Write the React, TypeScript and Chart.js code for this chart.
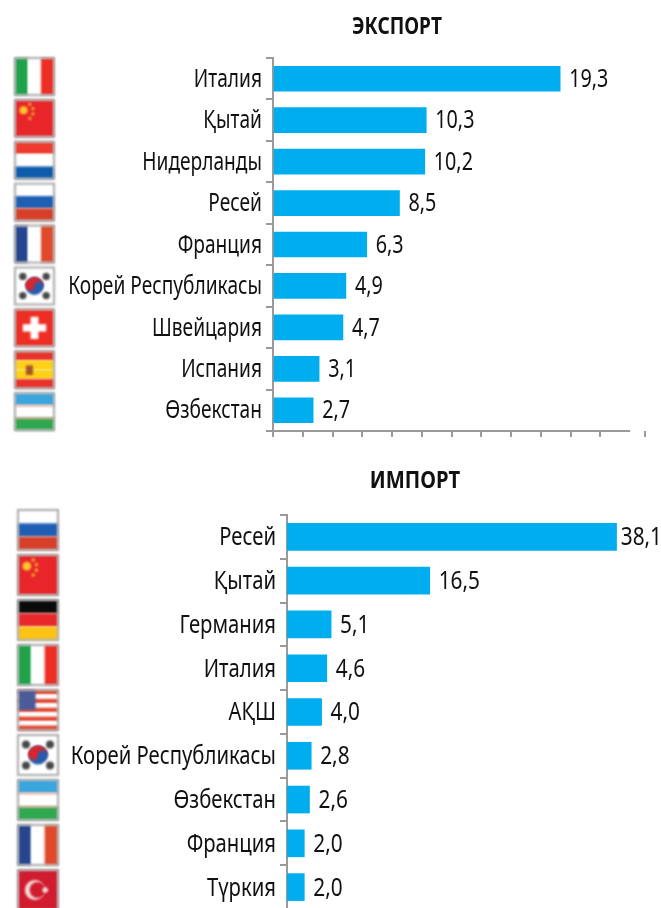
import React, { useEffect, useRef } from "react";
import { Chart, registerables } from "chart.js";

Chart.register(...registerables);

const exportCategories = ["Италия", "Қытай", "Нидерланды", "Ресей", "Франция", "Корей Республикасы", "Швейцария", "Испания", "Өзбекстан"];
const exportValues = [19.3, 10.3, 10.2, 8.5, 6.3, 4.9, 4.7, 3.1, 2.7];
const exportFlags = ["it", "cn", "nl", "ru", "fr", "kr", "ch", "es", "uz"];

const importCategories = ["Ресей", "Қытай", "Германия", "Италия", "АҚШ", "Корей Республикасы", "Өзбекстан", "Франция", "Түркия"];
const importValues = [38.1, 16.5, 5.1, 4.6, 4.0, 2.8, 2.6, 2.0, 2.0];
const importFlags = ["ru", "cn", "de", "it", "us", "kr", "uz", "fr", "tr"];

const exportAxisTicks = [0, 2, 4, 6, 8, 10, 12, 14, 16, 18, 20, 22, 25];

const FONT = '"Noto Sans", sans-serif';
const AXIS = "#9a9a9a";
const BAR = "#00aeef";
const INK = "#111111";

function bands(c: CanvasRenderingContext2D, x: number, y: number, w: number, h: number, cols: string[], vertical = false) {
  cols.forEach((col, i) => {
    c.fillStyle = col;
    if (vertical) c.fillRect(x + (i * w) / cols.length, y, w / cols.length, h);
    else c.fillRect(x, y + (i * h) / cols.length, w, h / cols.length);
  });
}

function drawFlag(c: CanvasRenderingContext2D, code: string, x: number, y: number, w: number, h: number) {
  c.save();
  c.filter = "blur(0.8px)";
  c.fillStyle = "#ffffff";
  c.fillRect(x, y, w, h);
  if (code === "it") bands(c, x, y, w, h, ["#1fa24a", "#ffffff", "#ee2d24"], true);
  if (code === "fr") bands(c, x, y, w, h, ["#27458f", "#ffffff", "#e0492a"], true);
  if (code === "nl") bands(c, x, y, w, h, ["#ee3b2e", "#ffffff", "#0f5bab"]);
  if (code === "ru") bands(c, x, y, w, h, ["#ffffff", "#1e5fb4", "#d6402a"]);
  if (code === "de") bands(c, x, y, w, h, ["#0a0a0a", "#e8282a", "#fcc314"]);
  if (code === "cn") {
    c.fillStyle = "#e8262a";
    c.fillRect(x, y, w, h);
    c.fillStyle = "#fbc531";
    c.beginPath();
    c.arc(x + w * 0.22, y + h * 0.28, h * 0.11, 0, Math.PI * 2);
    [[0.38, 0.12], [0.46, 0.24], [0.46, 0.38], [0.38, 0.5]].forEach(([a, b]) => {
      c.moveTo(x + w * a, y + h * b);
      c.arc(x + w * a, y + h * b, h * 0.04, 0, Math.PI * 2);
    });
    c.fill();
  }
  if (code === "ch") {
    c.fillStyle = "#ee2d24";
    c.fillRect(x, y, w, h);
    c.fillStyle = "#ffffff";
    c.fillRect(x + w * 0.4, y + h * 0.2, w * 0.2, h * 0.6);
    c.fillRect(x + w * 0.2, y + h * 0.4, w * 0.6, h * 0.2);
  }
  if (code === "es") {
    bands(c, x, y, w, h, ["#e8322a", "#fcd116", "#fcd116", "#e8322a"]);
    c.fillStyle = "#a8542a";
    c.fillRect(x + w * 0.28, y + h * 0.38, w * 0.18, h * 0.26);
  }
  if (code === "uz") {
    bands(c, x, y, w, h, ["#3aa6dd", "#ffffff", "#2fa84f"]);
    c.fillStyle = "#e8a090";
    c.fillRect(x, y + h * 0.32, w, 1.5);
    c.fillRect(x, y + h * 0.65, w, 1.5);
  }
  if (code === "kr") {
    const cx = x + w / 2, cy = y + h / 2, r = h * 0.24;
    c.fillStyle = "#2a5caa";
    c.beginPath(); c.arc(cx, cy, r, 0, Math.PI * 2); c.fill();
    c.fillStyle = "#d8262c";
    c.beginPath(); c.arc(cx, cy, r, Math.PI, 0); c.fill();
    c.beginPath(); c.arc(cx - r / 2, cy, r / 2, 0, Math.PI * 2); c.fill();
    c.fillStyle = "#2a5caa";
    c.beginPath(); c.arc(cx + r / 2, cy, r / 2, 0, Math.PI * 2); c.fill();
    c.fillStyle = "#484848";
    [[0.2, 0.24], [0.8, 0.24], [0.2, 0.76], [0.8, 0.76]].forEach(([a, b]) => {
      c.beginPath(); c.arc(x + w * a, y + h * b, h * 0.1, 0, Math.PI * 2); c.fill();
    });
  }
  if (code === "us") {
    for (let i = 0; i < 9; i++) {
      c.fillStyle = i % 2 ? "#ffffff" : "#e0452f";
      c.fillRect(x, y + (i * h) / 9, w, h / 9 + 0.5);
    }
    c.fillStyle = "#4a5a9a";
    c.fillRect(x, y, w * 0.44, h * 0.5);
  }
  if (code === "tr") {
    c.fillStyle = "#d01c2e";
    c.fillRect(x, y, w, h);
    c.fillStyle = "#f4dcdc";
    c.beginPath(); c.arc(x + w * 0.42, y + h * 0.5, h * 0.25, 0, Math.PI * 2); c.fill();
    c.fillStyle = "#d01c2e";
    c.beginPath(); c.arc(x + w * 0.49, y + h * 0.5, h * 0.2, 0, Math.PI * 2); c.fill();
    c.fillStyle = "#f4dcdc";
    c.beginPath(); c.arc(x + w * 0.68, y + h * 0.5, h * 0.07, 0, Math.PI * 2); c.fill();
  }
  c.filter = "blur(0.8px)";
  c.strokeStyle = "#a8a8a8";
  c.lineWidth = 2;
  c.strokeRect(x, y, w, h);
  c.restore();
}

type Cfg = {
  categories: string[];
  values: number[];
  flags: string[];
  title: string;
  titleX: number;
  titleY: number;
  titleK: number;
  flagX: number;
  flagY: number;
  flagW: number;
  flagH: number;
  flagPitch: number;
  axisWidth: number;
  padTop: number;
  padRight: number;
  padBottom: number;
  max: number;
  barPx: number;
  showX: boolean;
  fontSize: number;
  narrow: number;
  valueNarrow: number;
};

function BarPanel({ cfg, top, height }: { cfg: Cfg; top: number; height: number }) {
  const ref = useRef<HTMLCanvasElement | null>(null);
  useEffect(() => {
    const extras = {
      id: "extras",
      beforeDraw(chart: any) {
        // Noto Sans has no condensed face here: squeeze the axis's own labels horizontally.
        const s = chart.scales.y;
        if (s.__narrowed) return;
        s.__narrowed = true;
        const original = s.drawLabels.bind(s);
        const anchor = s.right - 7 - 4;
        s.drawLabels = (area: any) => {
          const c = chart.ctx;
          c.save();
          c.translate(anchor, 1);
          c.scale(cfg.narrow, 1);
          c.translate(-anchor, 0);
          original(area);
          c.restore();
        };
      },
      afterDatasetsDraw(chart: any) {
        const c = chart.ctx;
        c.save();
        c.font = `${cfg.fontSize}px ${FONT}`;
        c.fillStyle = INK;
        c.textBaseline = "middle";
        c.textAlign = "left";
        chart.getDatasetMeta(0).data.forEach((bar: any, i: number) => {
          const text = cfg.values[i].toFixed(1).replace(".", ",");
          const w = c.measureText(text).width * cfg.valueNarrow;
          const x = Math.min(bar.x + 9, 662 - w);
          c.save();
          c.translate(x, bar.y + 1);
          c.scale(cfg.valueNarrow, 1);
          c.fillText(text, 0, 0);
          c.restore();
        });
        c.font = `bold 23px ${FONT}`;
        c.textAlign = "center";
        c.save();
        c.translate(cfg.titleX, cfg.titleY);
        c.scale(cfg.titleK, 1);
        c.fillText(cfg.title, 0, 0);
        c.restore();
        cfg.flags.forEach((code, i) => {
          drawFlag(c, code, cfg.flagX, cfg.flagY + i * cfg.flagPitch, cfg.flagW, cfg.flagH);
        });
        if (cfg.showX) {
          const sx = chart.scales.x;
          c.strokeStyle = AXIS;
          c.lineWidth = 2;
          c.beginPath();
          c.moveTo(sx.getPixelForValue(0), chart.chartArea.bottom);
          c.lineTo(sx.getPixelForValue(24), chart.chartArea.bottom);
          c.stroke();
        }
        c.restore();
      },
    };
    const chart = new Chart(ref.current as HTMLCanvasElement, {
      type: "bar",
      data: {
        labels: cfg.categories,
        datasets: [{ data: cfg.values, backgroundColor: BAR, barThickness: cfg.barPx, borderWidth: 0 }],
      },
      options: {
        indexAxis: "y",
        animation: false,
        responsive: false,
        layout: { padding: { top: cfg.padTop, right: cfg.padRight, bottom: cfg.padBottom, left: 0 } },
        plugins: { legend: { display: false }, tooltip: { enabled: false }, title: { display: false } },
        scales: {
          x: {
            display: cfg.showX,
            min: 0,
            max: cfg.max,
            border: { display: false },
            afterBuildTicks: (s: any) => {
              if (cfg.showX) s.ticks = exportAxisTicks.map((value) => ({ value }));
            },
            grid: { drawOnChartArea: false, drawTicks: true, tickLength: 6, color: AXIS, lineWidth: 2 },
            ticks: { display: false },
          },
          y: {
            afterFit: (s: any) => {
              s.width = cfg.axisWidth;
              s.paddingTop = 0;
              s.paddingBottom = 0;
            },
            border: { display: true, color: AXIS, width: 2 },
            grid: { drawOnChartArea: false, drawTicks: true, tickLength: 7, color: AXIS, lineWidth: 2, offset: true },
            ticks: { color: INK, padding: 4, font: { family: FONT, size: cfg.fontSize }, autoSkip: false },
          },
        },
      },
      plugins: [extras],
    } as any);
    return () => chart.destroy();
  }, [cfg]);
  return (
    <canvas
      ref={ref}
      width={661}
      height={height}
      style={{ position: "absolute", left: 0, top, width: 661, height, display: "block" }}
    />
  );
}

const exportCfg: Cfg = {
  categories: exportCategories, values: exportValues, flags: exportFlags,
  title: "ЭКСПОРТ", titleX: 397, titleY: 27, titleK: 0.83,
  flagX: 15, flagY: 58, flagW: 39, flagH: 37, flagPitch: 41.9,
  axisWidth: 273, padTop: 58, padRight: 16, padBottom: 23, max: 25, barPx: 25, showX: true,
  fontSize: 25, narrow: 0.766, valueNarrow: 0.79,
};

const importCfg: Cfg = {
  categories: importCategories, values: importValues, flags: importFlags,
  title: "ИМПОРТ", titleX: 415, titleY: 21, titleK: 0.88,
  flagX: 18, flagY: 50, flagW: 40, flagH: 40, flagPitch: 45,
  axisWidth: 287, padTop: 55, padRight: 28, padBottom: 11, max: 40, barPx: 27, showX: false,
  fontSize: 26, narrow: 0.78, valueNarrow: 0.8,
};

export default function App() {
  return (
    <div style={{ position: "absolute", left: 0, top: 0, width: 661, height: 908, overflow: "hidden", background: "#fff" }}>
      <BarPanel cfg={exportCfg} top={0} height={460} />
      <BarPanel cfg={importCfg} top={460} height={460} />
    </div>
  );
}
